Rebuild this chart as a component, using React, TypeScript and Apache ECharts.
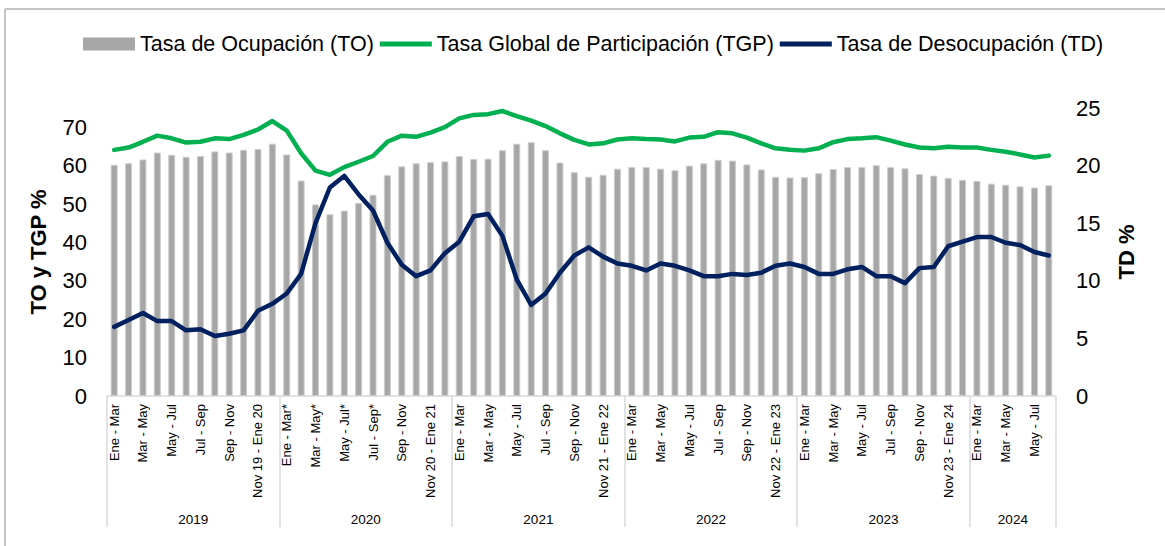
import React, { useEffect, useRef } from 'react';
import * as echarts from 'echarts';

const years = ['2019', '2020', '2021', '2022', '2023', '2024'];
const groupSizes = [12, 12, 12, 12, 12, 6];

const periods = [
  'Ene - Mar', 'Feb - Abr', 'Mar - May', 'Abr - Jun', 'May - Jul', 'Jun - Ago', 'Jul - Sep', 'Ago - Oct', 'Sep - Nov', 'Oct - Dic', 'Nov 19 - Ene 20', 'Dic 19 - Feb 20',
  'Ene - Mar*', 'Feb - Abr*', 'Mar - May*', 'Abr - Jun*', 'May - Jul*', 'Jun - Ago*', 'Jul - Sep*', 'Ago - Oct', 'Sep - Nov', 'Oct - Dic', 'Nov 20 - Ene 21', 'Dic 20 - Feb 21',
  'Ene - Mar', 'Feb - Abr', 'Mar - May', 'Abr - Jun', 'May - Jul', 'Jun - Ago', 'Jul - Sep', 'Ago - Oct', 'Sep - Nov', 'Oct - Dic', 'Nov 21 - Ene 22', 'Dic 21 - Feb 22',
  'Ene - Mar', 'Feb - Abr', 'Mar - May', 'Abr - Jun', 'May - Jul', 'Jun - Ago', 'Jul - Sep', 'Ago - Oct', 'Sep - Nov', 'Oct - Dic', 'Nov 22 - Ene 23', 'Dic 22 - Feb 23',
  'Ene - Mar', 'Feb - Abr', 'Mar - May', 'Abr - Jun', 'May - Jul', 'Jun - Ago', 'Jul - Sep', 'Ago - Oct', 'Sep - Nov', 'Oct - Dic', 'Nov 23 - Ene 24', 'Dic 23 - Feb 24',
  'Ene - Mar', 'Feb - Abr', 'Mar - May', 'Abr - Jun', 'May - Jul', 'Jun - Ago',
];

// Tasa de Ocupación (TO) %
const toValues = [
  60.2, 60.6, 61.6, 63.4, 62.8, 62.3, 62.5, 63.7, 63.4, 64.1, 64.3, 65.7,
  62.9, 56.1, 49.9, 47.3, 48.3, 50.3, 52.4, 57.5, 59.8, 60.6, 60.9, 61.1,
  62.5, 61.7, 61.8, 64.0, 65.7, 66.1, 64.0, 60.8, 58.3, 57.1, 57.6, 59.2,
  59.6, 59.6, 59.2, 58.8, 60.0, 60.6, 61.5, 61.3, 60.3, 59.0, 57.1, 56.9,
  57.0, 58.0, 59.1, 59.6, 59.6, 60.1, 59.6, 59.3, 57.8, 57.4, 56.8, 56.3,
  56.0, 55.3, 55.0, 54.6, 54.3, 54.9,
];

// Tasa Global de Participación (TGP) %
const tgpValues = [
  64.1, 64.7, 66.2, 67.8, 67.1, 66.0, 66.2, 67.1, 66.9, 68.0, 69.4, 71.6,
  69.1, 63.2, 58.7, 57.6, 59.6, 61.0, 62.5, 66.2, 67.8, 67.5, 68.6, 70.0,
  72.3, 73.2, 73.4, 74.2, 72.9, 71.7, 70.3, 68.4, 66.7, 65.5, 65.8, 66.8,
  67.1, 66.9, 66.8, 66.3, 67.3, 67.5, 68.7, 68.4, 67.3, 65.8, 64.5, 64.1,
  63.9, 64.5, 66.1, 66.9, 67.1, 67.4, 66.5, 65.5, 64.7, 64.5, 64.9, 64.7,
  64.7, 64.1, 63.6, 62.9, 62.1, 62.6,
];

// Tasa de Desocupación (TD) %
const tdValues = [
  6.0, 6.6, 7.2, 6.5, 6.5, 5.7, 5.8, 5.2, 5.4, 5.7, 7.4, 8.0,
  8.9, 10.6, 15.0, 18.1, 19.1, 17.5, 16.1, 13.3, 11.4, 10.4, 10.9, 12.4,
  13.4, 15.6, 15.8, 13.9, 10.1, 7.9, 8.9, 10.7, 12.2, 12.9, 12.1, 11.5,
  11.3, 10.9, 11.5, 11.3, 10.9, 10.4, 10.4, 10.6, 10.5, 10.7, 11.3, 11.5,
  11.2, 10.6, 10.6, 11.0, 11.2, 10.4, 10.4, 9.8, 11.1, 11.2, 13.0, 13.4,
  13.8, 13.8, 13.3, 13.1, 12.5, 12.2,
];

const leftAxis = { min: 0, max: 75, interval: 10 };
const rightAxis = { min: 0, max: 25, interval: 5 };

const FONT = "'Liberation Sans', Arial, sans-serif";
const LINE_ICON = 'path://M0,0H52V0.01H0ZM0,4H52V9H0ZM0,13H52V12.99H0Z';

export default function App() {
  const ref = useRef<HTMLDivElement>(null);

  useEffect(() => {
    if (!ref.current) return;
    const chart = echarts.init(ref.current, null, { renderer: 'svg' });

    const groupStarts: number[] = [];
    const labelIdx: Record<number, string> = {};
    let s = 0;
    groupSizes.forEach((n, g) => {
      groupStarts.push(s);
      labelIdx[s + n / 2 - 1] = years[g];
      s += n;
    });

    const option: any = {
      animation: false,
      textStyle: { fontFamily: FONT },
      graphic: [
        { type: 'line', shape: { x1: 5, y1: 9, x2: 1165, y2: 9 }, style: { stroke: '#c4c4c4', lineWidth: 2 } },
        { type: 'line', shape: { x1: 5, y1: 9, x2: 5, y2: 546 }, style: { stroke: '#c4c4c4', lineWidth: 2 } },
      ],
      legend: {
        top: 28,
        left: 78,
        itemWidth: 52,
        itemHeight: 13,
        itemGap: 6,
        textStyle: { fontSize: 21.5, color: '#000', fontFamily: FONT },
        data: [
          { name: 'Tasa de Ocupación (TO)', icon: 'rect', itemStyle: { color: '#a6a6a6', borderWidth: 0 } },
          { name: 'Tasa Global de Participación (TGP)', icon: LINE_ICON, itemStyle: { color: '#00b050', borderWidth: 0 } },
          { name: 'Tasa de Desocupación (TD)', icon: LINE_ICON, itemStyle: { color: '#002060', borderWidth: 0 } },
        ],
      },
      grid: { left: 107, right: 109, top: 108, bottom: 150 },
      xAxis: [
        {
          type: 'category',
          data: periods,
          boundaryGap: true,
          axisLine: { lineStyle: { color: '#d9d9d9', width: 1.5 } },
          axisTick: {
            show: true,
            interval: (i: number) => groupStarts.includes(i),
            length: 131,
            lineStyle: { color: '#d9d9d9', width: 1.5 },
          },
          axisLabel: { interval: 1, rotate: 90, fontSize: 13, color: '#000', margin: 8, fontFamily: FONT },
        },
        {
          type: 'category',
          data: periods,
          position: 'bottom',
          axisLine: { show: false },
          axisTick: { show: false },
          axisLabel: {
            interval: (i: number) => labelIdx[i] !== undefined,
            formatter: (_v: string, i: number) => labelIdx[i] || '',
            margin: 116,
            padding: [0, 0, 0, 14.4],
            fontSize: 13.5,
            color: '#000',
            fontFamily: FONT,
          },
        },
      ],
      yAxis: [
        {
          type: 'value',
          ...leftAxis,
          splitLine: { show: false },
          axisLine: { show: false },
          axisTick: { show: false },
          axisLabel: { fontSize: 22, color: '#000', margin: 20, showMaxLabel: false, fontFamily: FONT },
          name: 'TO y TGP %',
          nameLocation: 'middle',
          nameRotate: 90,
          nameGap: 58,
          nameTextStyle: { fontSize: 22, fontWeight: 'bold', color: '#000', fontFamily: FONT },
        },
        {
          type: 'value',
          position: 'right',
          ...rightAxis,
          splitLine: { show: false },
          axisLine: { show: false },
          axisTick: { show: false },
          axisLabel: { fontSize: 22, color: '#000', margin: 20, fontFamily: FONT },
          name: 'TD %',
          nameLocation: 'middle',
          nameRotate: 90,
          nameGap: 59,
          nameTextStyle: { fontSize: 22, fontWeight: 'bold', color: '#000', fontFamily: FONT },
        },
      ],
      series: [
        {
          name: 'Tasa de Ocupación (TO)',
          type: 'bar',
          xAxisIndex: 0,
          yAxisIndex: 0,
          data: toValues,
          barWidth: 7,
          itemStyle: { color: '#a6a6a6', borderColor: '#cdcdcd', borderWidth: 1 },
        },
        {
          name: 'Tasa Global de Participación (TGP)',
          type: 'line',
          xAxisIndex: 0,
          yAxisIndex: 0,
          data: tgpValues,
          symbol: 'none',
          lineStyle: { color: '#00b050', width: 4.5, cap: 'round', join: 'round' },
          itemStyle: { color: '#00b050' },
        },
        {
          name: 'Tasa de Desocupación (TD)',
          type: 'line',
          xAxisIndex: 0,
          yAxisIndex: 1,
          data: tdValues,
          symbol: 'none',
          lineStyle: { color: '#002060', width: 4.5, cap: 'round', join: 'round' },
          itemStyle: { color: '#002060' },
        },
      ],
    };

    chart.setOption(option);
    return () => chart.dispose();
  }, []);

  return (
    <div
      ref={ref}
      style={{ position: 'absolute', left: 0, top: 0, width: 1165, height: 546, background: '#fff' }}
    />
  );
}
